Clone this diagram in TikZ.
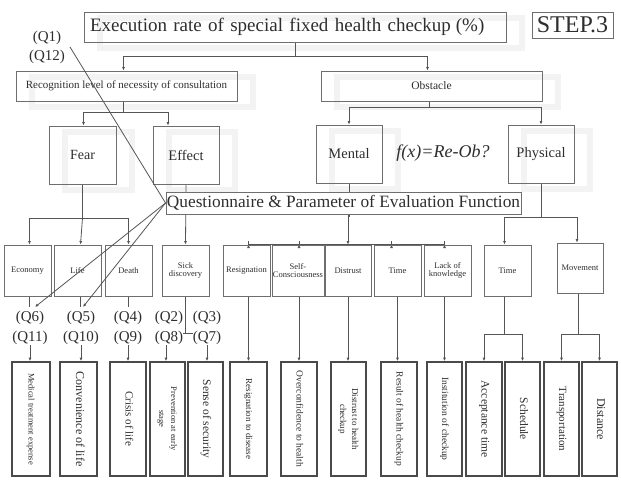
\documentclass[tikz,border=0pt]{standalone}
\usepackage{fontspec}
\setmainfont{Liberation Serif}
\usepackage{graphicx}
\usetikzlibrary{arrows.meta,backgrounds,calc}
\pgfdeclarelayer{bgfill}
\pgfsetlayers{bgfill,background,main}
\definecolor{boxc}{HTML}{6E6E6E}
\definecolor{leafc}{HTML}{4A4A4A}
\definecolor{lnc}{HTML}{555555}
\definecolor{txt}{HTML}{2E2E2E}
\definecolor{ghostc}{HTML}{F3F3F3}
\newcommand{\fs}[1]{\fontsize{#1}{#1}\selectfont}
\newcommand{\vtext}[1]{\rotatebox{-90}{\begin{tabular}{@{}c@{}}#1\end{tabular}}}
\begin{document}
\begin{tikzpicture}[x=1pt,y=-1pt,
  box/.style={draw=boxc, line width=0.9pt, fill=white, fill opacity=0, text opacity=1, inner sep=1pt, align=center, text=txt},
  lvtwo/.style={box, minimum width=47, minimum height=51, font=\fs{8.5}},
  leaf/.style={draw=leafc, line width=1.7pt, fill=white, minimum width=36, minimum height=114, inner sep=0pt, text=txt},
  ln/.style={draw=lnc, line width=0.8pt},
  arr/.style={ln, -{Latex[length=3.5pt,width=3pt]}},
  lbl/.style={font=\fs{15}, text=txt, inner sep=0pt},
  ghost/.style={draw=ghostc, line width=6pt}
]
\useasboundingbox (0,0) rectangle (621,484);
\begin{pgfonlayer}{bgfill}
\fill[white] (0,0) rectangle (621,484);
\end{pgfonlayer}

% top
\node[box, minimum width=422, minimum height=30, text width=410, inner xsep=5pt, align=left, font=\fs{19}] (title) at (295,27) {Execution rate of special fixed health checkup\hspace{5pt}(\%)};
\node[box, minimum width=81, minimum height=26, inner sep=0pt, font=\fs{24}] (step3) at (572.5,25) {STEP.3};

\node[box, minimum width=221, minimum height=30, font=\fs{11}] (recog) at (126.5,86) {Recognition level of necessity of consultation};
\node[box, minimum width=221, minimum height=30, font=\fs{11.5}] (obst) at (431.5,86) {Obstacle};

\node[box, minimum width=67, minimum height=58, font=\fs{14}] (fear) at (82.5,155) {Fear};
\node[box, minimum width=66, minimum height=58, font=\fs{14.5}] (effect) at (186,155) {Effect};
\node[box, minimum width=66, minimum height=58, font=\fs{14.5}] (mental) at (349,154) {Mental};
\node[box, minimum width=66, minimum height=58, font=\fs{14.5}] (physical) at (541,154) {Physical};
\node[text=txt, font=\fs{18}\itshape, inner sep=0pt] (fx) at (443,153) {f(x)=Re-Ob?};

\node[box, fill opacity=1, minimum width=355, minimum height=22, inner sep=0pt, font=\fs{17.3}] (quest) at (343.5,203) {Questionnaire \& Parameter of Evaluation Function};

% level 2
\node[lvtwo] (econ) at (27.5,270.5) {Economy};
\node[lvtwo] (life) at (77.5,270.5) {Life};
\node[lvtwo] (death) at (128.5,270.5) {Death};
\node[lvtwo] (sick) at (185.5,270.5) {Sick\\discovery};
\node[lvtwo] (resig) at (246.5,270.5) {Resignation};
\node[lvtwo, minimum width=48] (selfc) at (298,270.5) {Self-\\[-1pt]Consciousness};
\node[lvtwo, minimum width=46] (distr) at (348,270.5) {Distrust};
\node[lvtwo] (timeone) at (397.5,270.5) {Time};
\node[lvtwo] (lack) at (447.5,270.5) {Lack of\\knowledge};
\node[lvtwo] (timetwo) at (507.5,270.5) {Time};
\node[lvtwo, minimum width=46, minimum height=50] (move) at (580,268) {Movement};

% Q labels
\node[lbl] (qa) at (47,38) {(Q1)};
\node[lbl] (qb) at (47,57) {(Q12)};
\node[lbl] (q6) at (30,318) {(Q6)};
\node[lbl] (q11) at (30,338) {(Q11)};
\node[lbl] (q5) at (81,318) {(Q5)};
\node[lbl] (q10) at (81,338) {(Q10)};
\node[lbl] (q4) at (128,318) {(Q4)};
\node[lbl] (q9) at (128,338) {(Q9)};
\node[lbl] (q2) at (169,318) {(Q2)};
\node[lbl] (q8) at (169,338) {(Q8)};
\node[lbl] (q3) at (207,318) {(Q3)};
\node[lbl] (q7) at (207,338) {(Q7)};

% leaves
\node[leaf, minimum width=38] (b1) at (31,419) {\vtext{\fs{8.5}Medical treatment expense}};
\node[leaf, minimum width=37] (b2) at (78.5,419) {\vtext{\fs{12}Convenience of life}};
\node[leaf] (b3) at (128,419) {\vtext{\fs{11}Crisis of life}};
\node[leaf, minimum width=35] (b4) at (167.5,419) {\vtext{\fs{8.5}Prevention at early\\\fs{8.5}stage}};
\node[leaf, minimum width=35] (b5) at (205.5,419) {\vtext{\fs{11.5}Sense of security}};
\node[leaf, minimum width=37] (b6) at (248.5,419) {\vtext{\fs{9}Resignation to disease}};
\node[leaf] (b7) at (299,419) {\vtext{\fs{9.5}Overconfidence to health}};
\node[leaf, minimum width=35] (b8) at (348.5,419) {\vtext{\fs{9}Distrust to health\\\fs{9}checkup}};
\node[leaf] (b9) at (399,419) {\vtext{\fs{9.5}Result of health checkup}};
\node[leaf, minimum width=35] (b10) at (444.5,419) {\vtext{\fs{9.5}Institution of checkup}};
\node[leaf] (b11) at (484,419) {\vtext{\fs{11.5}Acceptance time}};
\node[leaf, minimum width=35] (b12) at (522.5,419) {\vtext{\fs{11.5}Schedule}};
\node[leaf, minimum width=35] (b13) at (561.5,419) {\vtext{\fs{11}Transportation}};
\node[leaf, minimum width=35] (b14) at (599.5,419) {\vtext{\fs{12}Distance}};

% faint ghost shadows of the upper boxes
\begin{pgfonlayer}{bgfill}
\foreach \n in {title,recog,obst,fear,effect,mental,physical}{
  \draw[ghost] ($(\n.north west)+(16,6)$) rectangle ($(\n.south east)+(16,6)$);
}
\end{pgfonlayer}

\begin{scope}[on background layer]
% title -> recog / obstacle
\draw[ln] (title.south) -- ++(0,14) coordinate (tj);
\draw[arr] (tj) -| ($(recog.north)+(-3,0)$);
\draw[arr] (tj) -| ($(obst.north)+(-4,0)$);
% recog -> fear / effect
\draw[ln] ($(recog.south)+(-3,0)$) -- ++(0,11) coordinate (rj);
\draw[arr] (rj) -| ($(fear.north)+(1,0)$);
\draw[arr] (rj) -| ($(effect.north)+(-18,0)$);
% obstacle -> mental / physical
\draw[ln] ($(obst.south)+(-2,0)$) -- ++(0,6) coordinate (oj);
\draw[arr] (oj) -| (mental.north);
\draw[arr] (oj) -| (physical.north);
% fear -> econ/life/death
\draw[ln] (fear.south) -- (fear.south |- 0,218) coordinate (fj);
\draw[arr] (fj) -| ($(econ.north)+(2,0)$);
\draw[arr] (fj) -- ($(life.north)+(3,0)$);
\draw[arr] (fj) -| (death.north);
% effect -> sick (behind questionnaire)
\draw[arr] (effect.south) -- (sick.north);
% mental -> questionnaire -> five
\draw[ln] (mental.south) -- (mental.south |- 0,217) coordinate (mj);
\draw[ln] ($(resig.north)+(2,0)$ |- mj) -- ($(lack.north)+(-3,0)$ |- mj);
\draw[arr] ($(resig.north)+(2,0)$ |- quest.south) -- ($(resig.north)+(2,0)$);
\draw[arr] ($(selfc.north)+(1,0)$ |- quest.south) -- ($(selfc.north)+(1,0)$);
\draw[arr] (distr.north |- quest.south) -- (distr.north);
\draw[arr] ($(timeone.north)+(-6,0)$ |- mj) -- ($(timeone.north)+(-6,0)$);
\draw[arr] ($(lack.north)+(-3,0)$ |- mj) -- ($(lack.north)+(-3,0)$);
% physical -> time / movement
\draw[ln] (physical.south) -- (physical.south |- 0,217) coordinate (pj);
\draw[arr] (pj) -| ($(timetwo.north)+(-3,0)$);
\draw[arr] (pj) -| ($(move.north)+(-3,0)$);
% level2 -> Q labels
\draw[ln] ($(econ.south)+(2,0)$) -- ($(econ.south)+(2,11)$);
\draw[ln] ($(life.south)+(3,0)$) -- ($(life.south)+(3,11)$);
\draw[ln] (death.south) -- ++(0,11);
\coordinate (sj) at (185.5,333);
\draw[ln] (sick.south) -- (sj);
\draw[ln] (q8.east |- sj) -- (q7.west |- sj);
% Q labels -> leaves
\draw[arr] (q11.south) -- (q11.south |- b1.north);
\draw[arr] (q10.south) -- ($(q10.south |- b2.north)$);
\draw[arr] (q9.south) -- (q9.south |- b3.north);
\draw[arr] ($(q8.south)+(-3,0)$) -- ($(q8.south |- b4.north)+(-3,0)$);
\draw[arr] (q7.south) -- (q7.south |- b5.north);
% level2 -> leaves
\draw[arr] ($(resig.south)+(2,0)$) -- ($(resig.south |- b6.north)+(2,0)$);
\draw[arr] ($(selfc.south)+(1,0)$) -- ($(selfc.south |- b7.north)+(1,0)$);
\draw[arr] (distr.south) -- (distr.south |- b8.north);
\draw[arr] (timeone.south) -- (timeone.south |- b9.north);
\draw[arr] ($(lack.south)+(-3,0)$) -- ($(lack.south |- b10.north)+(-3,0)$);
\draw[ln] ($(timetwo.south)+(-3,0)$) -- ($(timetwo.south)+(-3,38)$) coordinate (tj2);
\draw[arr] (tj2) -| (b11.north);
\draw[arr] (tj2) -| (b12.north);
\draw[ln] ($(move.south)+(-2,0)$) -- ($(move.south)+(-2,41)$) coordinate (mj2);
\draw[arr] (mj2) -| (b13.north);
\draw[arr] (mj2) -| (b14.north);
\end{scope}
% diagonals
\coordinate (qend) at (70,47);
\draw[ln] (qend) -- (quest.west);
\draw[arr] (quest.west) -- (35,307);
\draw[arr] (quest.west) -- (83,307);
\end{tikzpicture}
\end{document}
